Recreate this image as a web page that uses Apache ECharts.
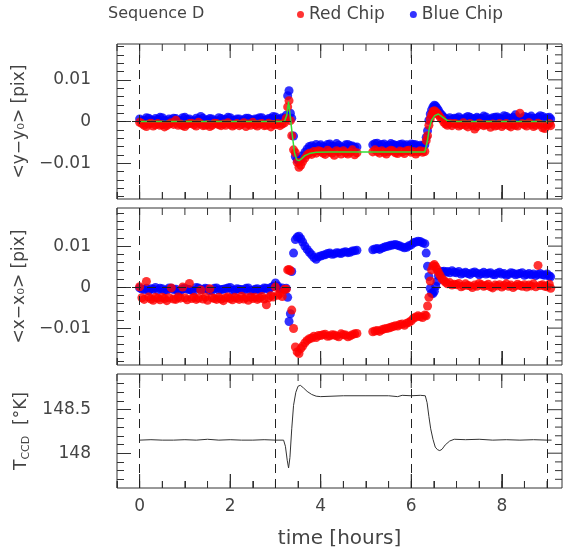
<!DOCTYPE html>
<html>
<head>
<meta charset="utf-8">
<script src="https://cdn.jsdelivr.net/npm/echarts@6/dist/echarts.min.js"></script>
<style>
  html, body { margin: 0; padding: 0; background: #fff; }
  #main { width: 563px; height: 550px; }
</style>
</head>
<body>
<div id="main"></div>
<script>
// exposure times [hours]
var hours = [
  0.00, 0.05, 0.10, 0.15, 0.20, 0.25, 0.30, 0.35, 0.40, 0.45, 0.50, 0.55, 0.60, 0.65, 0.70, 0.75, 0.80, 0.85, 0.90, 0.95,
  1.00, 1.05, 1.10, 1.15, 1.20, 1.25, 1.30, 1.35, 1.40, 1.45, 1.50, 1.55, 1.60, 1.65, 1.70, 1.75, 1.80, 1.85, 1.90, 1.95,
  2.00, 2.05, 2.10, 2.15, 2.20, 2.25, 2.30, 2.35, 2.40, 2.45, 2.50, 2.55, 2.60, 2.65, 2.70, 2.75, 2.80, 2.85, 2.90, 2.95,
  3.00, 3.05, 3.10, 3.15, 3.20,
  3.24, 3.27, 3.30, 3.33, 3.36, 3.40, 3.44, 3.48, 3.52, 3.56, 3.60, 3.65, 3.70, 3.75, 3.80, 3.85, 3.90, 3.95,
  4.00, 4.05, 4.10, 4.15, 4.20, 4.25, 4.30, 4.35, 4.40, 4.45, 4.50, 4.55, 4.60, 4.65, 4.70, 4.75, 4.80,
  5.15, 5.20, 5.25, 5.30, 5.35, 5.40, 5.45, 5.50, 5.55, 5.60, 5.65, 5.70, 5.75, 5.80, 5.85, 5.90, 5.95, 6.00, 6.05, 6.10,
  6.15, 6.20, 6.25, 6.30,
  6.33, 6.36, 6.39, 6.42, 6.45, 6.48, 6.51, 6.54, 6.57, 6.60, 6.64, 6.68, 6.72, 6.76, 6.80, 6.85, 6.90, 6.95,
  7.00, 7.05, 7.10, 7.15, 7.20, 7.25, 7.30, 7.35, 7.40, 7.45, 7.50, 7.55, 7.60, 7.65, 7.70, 7.75, 7.80, 7.85, 7.90, 7.95,
  8.00, 8.05, 8.10, 8.15, 8.20, 8.25, 8.30, 8.35, 8.40, 8.45, 8.50, 8.55, 8.60, 8.65, 8.70, 8.75, 8.80, 8.85, 8.90, 8.95,
  9.00, 9.05, 9.08
];

// <y-y0>, in units of 0.001 pix
var dyBlue = [
  0.6, 0.2, 0.3, 0.9, 0.8, 0.4, 0.2, 0.7, 0.5, 1.0, 0.9, 0.3, 0.1, 0.6, 0.4, 0.8, 0.7, 0.2, 0.3, 0.9,
  1.0, 0.5, 0.6, 0.1, 0.2, 0.8, 0.5, 1.2, 0.8, 0.3, 0.4, 0.7, 0.6, 0.2, 0.2, 0.9, 0.7, 0.4, 0.5, 1.0,
  0.9, 0.3, 0.3, 0.6, 0.6, 0.1, 0.4, 0.8, 0.8, 0.5, 0.2, 0.6, 0.6, 0.9, 0.9, 0.3, 0.4, 0.7, 0.7, 1.2,
  1.1, 0.5, 0.6, 0.9, 0.8,
  1.5, 6.2, 7.4, 2.0, 0.8, -3.5, -8.4, -9.2, -9.5, -9.0, -8.2, -7.4, -6.6, -6.0, -5.8, -6.2, -5.5, -6.0,
  -5.6, -6.0, -6.2, -5.5, -5.4, -5.9, -6.0, -5.3, -5.7, -6.1, -6.3, -5.6, -5.5, -5.8, -5.9, -6.2, -6.1,
  -5.6, -5.3, -5.2, -5.8, -5.5, -5.4, -6.0, -5.7, -5.3, -5.5, -5.7, -5.9, -5.5, -5.4, -5.8, -5.6, -5.9, -5.4, -5.5, -5.6,
  -6.0, -5.7, -5.8, -5.6,
  -3.8, -2.2, 0.3, 1.8, 2.8, 3.5, 3.9, 3.7, 3.2, 2.7, 2.0, 1.5, 1.0, 0.6, 0.4, 0.9, 0.5, 0.8,
  0.8, 1.1, 0.6, 0.5, 0.9, 1.2, 1.0, 0.6, 0.7, 1.0, 0.8, 0.7, 1.3, 1.1, 0.5, 0.6, 0.9, 1.0, 1.1, 0.8,
  0.6, 1.4, 1.2, 0.8, 0.7, 1.0, 1.6, 0.9, 0.5, 0.7, 1.2, 1.0, 0.9, 1.3, 0.8, 0.7, 1.0, 1.4, 1.2, 0.6,
  0.9, 1.0, 0.6
];
var dyRed = [
  -0.2, -0.5, -0.9, -1.2, -0.6, -0.4, -1.1, -0.8, -0.5, -0.9, -0.8, -1.3, -1.0, -0.6, -0.3, -0.7, 0.3, -0.9, -0.6, -1.0,
  -1.2, -0.7, -0.5, -0.4, -0.8, -1.1, -0.2, -0.6, -1.0, -0.9, -0.7, -1.2, -0.9, -0.4, -0.5, -0.8, -1.0, -0.6, -0.9, -0.3,
  -0.7, -1.1, -0.8, -0.5, -1.0, -0.7, -0.3, -1.2, -0.6, -0.9, -0.2, -0.8, -1.1, -0.6, -0.5, -1.0, -0.9, -0.4, -1.3, -0.7,
  -0.8, -0.5, -1.0, -0.6, -0.3,
  0.8, 3.5, 5.0, 0.2, -3.4, -6.8, -7.5, -9.8, -11.0, -10.5, -9.6, -8.8, -8.0, -7.6, -7.9, -7.2, -7.6, -7.0,
  -7.2, -7.6, -7.9, -6.9, -7.3, -7.6, -8.1, -7.0, -7.3, -7.8, -7.0, -7.5, -7.8, -7.4, -6.8, -8.0, -7.5,
  -7.3, -6.8, -7.2, -7.6, -7.0, -7.4, -7.8, -7.2, -6.9, -7.1, -7.5, -7.7, -7.1, -7.3, -7.7, -7.0, -6.9, -7.4, -7.2, -7.8,
  -7.3, -7.0, -7.4, -7.2,
  -4.6, -3.4, -0.9, 0.6, 1.6, 2.4, 2.6, 2.3, 2.0, 1.6, 1.0, 0.5, -0.2, -0.6, -0.9, -0.4, -1.0, -0.5,
  -0.6, -1.1, -0.8, -0.3, -0.9, -1.3, -0.5, -1.0, -1.8, -1.2, -0.4, -0.7, -1.0, -0.8, -0.7, -1.4, -0.6, -1.1, -0.9, -0.5,
  -1.2, -0.8, -0.5, -1.0, -1.3, -0.6, -0.9, -1.1, 2.0, -0.5, -0.8, -1.1, -0.3, -0.7, -1.2, -0.9, -0.4, -0.7, -1.5, -1.7,
  -0.9, -0.5, -1.0
];

// <x-x0>, in units of 0.001 pix
var dxBlue = [
  -0.2, -0.5, -0.6, -0.3, -0.9, -0.4, -0.5, -0.1, -0.7, -0.3, -0.4, -0.8, -0.7, -0.2, -0.3, -0.6, -0.5, -1.0, -0.9, -0.4,
  -0.3, -0.5, -0.6, -0.8, -0.9, -0.1, -0.2, -0.6, -0.5, -0.3, -0.4, -0.9, -0.8, -0.3, -0.2, -0.7, -0.6, -0.5, -0.4, -0.2,
  -0.1, -0.8, -0.7, -0.4, -0.5, -0.6, -0.7, -0.3, -0.2, -0.9, -0.8, -0.5, -0.4, -0.7, -0.6, -0.2, -0.3, -0.6, -0.1, 0.2,
  1.0, 0.3, -0.4, -0.2, -0.6,
  -0.3, -2.5, -8.4, -6.5, 3.8, 8.3, 11.6, 12.2, 12.4, 11.8, 11.0, 10.0, 9.2, 8.5, 7.9, 7.2, 6.8, 7.4,
  7.6, 7.8, 7.9, 8.2, 8.3, 8.0, 8.1, 8.4, 8.3, 8.2, 8.5, 8.6, 8.4, 8.5, 8.8, 8.9, 9.0,
  9.1, 9.3, 9.4, 9.2, 9.5, 9.7, 9.9, 10.0, 10.2, 10.3, 10.4, 10.2, 10.0, 9.8, 9.6, 9.7, 10.1, 10.3, 10.8, 11.0,
  11.2, 11.1, 10.8, 10.6,
  8.3, 5.1, 2.6, -0.3, -1.5, -1.6, -1.0, 0.2, 1.4, 2.8, 3.6, 3.8, 3.9, 3.6, 3.8, 3.5, 4.0, 3.6,
  3.5, 3.8, 3.2, 3.4, 3.6, 3.3, 3.1, 3.5, 3.7, 3.4, 3.0, 3.3, 3.6, 3.2, 3.4, 3.5, 3.1, 3.0, 3.4, 3.6,
  3.2, 3.3, 2.9, 3.1, 3.5, 3.4, 3.0, 3.2, 3.3, 3.5, 2.9, 3.1, 3.3, 3.0, 3.2, 2.8, 3.1, 3.3, 3.0, 2.9,
  3.2, 2.7, 2.5
];
var dxRed = [
  0.1, -2.6, -3.0, 1.4, -2.4, -2.9, -3.2, -2.5, -2.7, -3.1, -2.5, -2.8, -3.3, -2.6, -0.2, -2.9, -3.0, -2.4, -2.7, 0.0,
  -2.6, -3.1, 0.9, -2.8, -2.5, -3.0, -2.7, -0.7, -2.9, -2.4, -3.2, -0.4, -2.6, -2.8, -3.0, -2.5, -2.9, -3.3, -2.6, -2.4,
  -2.8, -3.1, -2.5, -2.7, -3.0, -2.2, -2.9, -2.6, -3.2, -2.4, -2.8, -2.5, -3.0, -2.7, -2.3, -2.9, -4.3, -2.6, -2.1, -2.4,
  0.0, -2.0, -1.6, -2.3, -0.5,
  -0.5, 4.2, 4.3, 4.0, -5.6, -10.1, -14.6, -15.8, -16.2, -15.0, -14.4, -13.6, -13.0, -12.6, -12.4, -12.0, -12.3, -11.8,
  -11.8, -11.6, -11.5, -12.0, -11.9, -11.6, -11.7, -11.9, -12.1, -11.4, -11.6, -11.7, -12.1, -11.9, -11.6, -11.4, -11.3,
  -10.9, -10.7, -10.6, -10.8, -10.4, -10.2, -10.1, -10.0, -9.8, -9.6, -9.4, -9.5, -9.1, -9.0, -9.3, -8.8, -8.6, -8.2, -7.6, -7.3,
  -7.0, -7.2, -7.4, -6.8,
  -7.0, -4.6, -2.5, 1.5, 4.2, 5.2, 5.5, 5.0, 4.3, 3.6, 2.8, 2.0, 1.6, 1.2, 0.8, 1.1, 0.5, 0.7,
  0.6, 0.9, 0.1, 0.3, 0.8, 0.4, 0.3, -0.1, 0.5, 0.2, 0.9, 0.6, 0.2, 0.4, 0.7, 0.1, -0.2, 0.5, 0.3, 0.6,
  0.0, 0.4, 0.8, 0.2, 0.5, -0.1, 0.3, 0.7, 0.4, 0.2, 0.6, 0.0, 0.5, 0.3, 0.8, 0.1, 5.3, 0.4, 0.6, 0.2,
  0.1, 0.7, -0.3
];

// model curve drawn over <y-y0>, units of 0.001 pix
var fitHours = [0.0, 3.2, 3.25, 3.29, 3.33, 3.37, 3.42, 3.47, 3.52, 3.58, 3.65, 3.75, 3.9, 4.2,
  6.3, 6.36, 6.40, 6.45, 6.52, 6.60, 6.70, 6.80, 6.90, 9.1];
var fitDy = [0.0, 0.0, 1.5, 4.8, 1.0, -3.0, -7.5, -9.2, -9.4, -8.9, -8.2, -7.7, -7.4, -7.3,
  -7.3, -4.5, -1.5, 0.3, 1.4, 1.8, 1.0, 0.2, 0.0, 0.0];

// CCD temperature [K]
var tempHours = [0.0, 0.25, 0.5, 0.75, 1.0, 1.25, 1.5, 1.75, 2.0, 2.25, 2.5, 2.75, 3.0, 3.18,
  3.22, 3.26, 3.29, 3.32, 3.36, 3.40, 3.45, 3.50, 3.55, 3.62, 3.70, 3.80, 3.90, 4.0, 4.5, 5.0,
  5.5, 5.7, 5.8, 6.0, 6.2, 6.31, 6.35, 6.39, 6.43, 6.48, 6.53, 6.58, 6.63, 6.68, 6.75, 6.85,
  6.95, 7.2, 7.5, 7.8, 8.1, 8.4, 8.7, 9.0, 9.1];
var tempK = [148.15, 148.155, 148.15, 148.15, 148.155, 148.15, 148.16, 148.15, 148.155, 148.15, 148.15, 148.155, 148.15, 148.15,
  148.08, 147.92, 147.83, 147.95, 148.28, 148.55, 148.70, 148.77, 148.78, 148.75, 148.71, 148.675, 148.655, 148.65, 148.66, 148.66,
  148.66, 148.65, 148.665, 148.66, 148.665, 148.66, 148.58, 148.42, 148.28, 148.16, 148.07, 148.04, 148.03, 148.045, 148.095, 148.14,
  148.16, 148.155, 148.16, 148.15, 148.155, 148.15, 148.155, 148.15, 148.15];

var xMajor = [0, 2, 4, 6, 8];
var offsetMajor = [-0.01, 0, 0.01];
var tempMajor = [148, 148.5];
var tempMinor = [147.7, 147.8, 147.9, 148.1, 148.2, 148.3, 148.4, 148.6, 148.7, 148.8];
var sessionBreaks = [0, 3, 6, 9];

var xMinor = [];
for (var v = -0.5; v <= 9.01; v += 0.5) xMinor.push(+v.toFixed(1));
var offsetMinor = [];
for (var k = -9; k <= 9; k++) if (k % 5 !== 0) offsetMinor.push(+(k * 0.002).toFixed(3));

var ink = '#333';
var textInk = '#444';
var font = 'DejaVu Sans';
var X_MIN = -0.5, X_MAX = 9.33;
var PLOT_LEFT = 117, PLOT_RIGHT = 1;

function pairs(xs, ys, scale) {
  return xs.map(function (x, i) { return [x, ys[i] * scale]; });
}

function signed(v) {
  return v < 0 ? '\u2212' + String(-v) : String(v);
}

function tick(len, values) {
  return { show: true, inside: true, length: len, customValues: values.slice(), lineStyle: { color: ink } };
}

var grids = [], xAxes = [], yAxes = [];

// each panel: one grid, x axis at bottom (labels) and y axis at left (labels),
// the other frame ticks come from the custom "frame ticks" series below
function addPanel(rect, yMin, yMax, yMajor, yMinor, yName, fmt, withTime) {
  var first = grids.length;
  for (var layer = 0; layer < 2; layer++) {
    var g = first + layer;
    var major = layer === 0;
    grids.push(Object.assign({}, rect, {
      show: layer === 0, borderColor: ink, borderWidth: 1, backgroundColor: 'transparent', outerBoundsMode: 'none'
    }));
    var xa = {
      gridIndex: g, type: 'value', position: 'bottom', min: X_MIN, max: X_MAX,
      axisLine: { show: false, onZero: false }, splitLine: { show: false }, axisLabel: { show: false },
      axisTick: major ? tick(14, xMajor) : tick(7, xMinor)
    };
    var ya = {
      gridIndex: g, type: 'value', position: 'left', min: yMin, max: yMax,
      axisLine: { show: false, onZero: false }, splitLine: { show: false }, axisLabel: { show: false },
      axisTick: major ? tick(14, yMajor) : tick(7, yMinor)
    };
    if (layer === 0) {
      ya.axisLabel = { show: true, customValues: yMajor.slice(), margin: 26, formatter: fmt, fontFamily: font, fontSize: 17, color: textInk };
      ya.name = yName;
      ya.nameLocation = 'middle';
      ya.nameRotate = 90;
      ya.nameGap = 84;
      ya.nameTextStyle = {
        fontFamily: font, fontSize: 17, color: textInk,
        rich: { s: { fontFamily: font, fontSize: 11, color: textInk, padding: [9, 0, 0, 0] } }
      };
      if (withTime) {
        xa.axisLabel = { show: true, customValues: xMajor.slice(), margin: 10, fontFamily: font, fontSize: 17, color: textInk };
        xa.name = 'time [hours]';
        xa.nameLocation = 'middle';
        xa.nameGap = 41;
        xa.nameTextStyle = { fontFamily: font, fontSize: 20, color: textInk };
      }
    }
    xAxes.push(xa);
    yAxes.push(ya);
  }
  return first;
}

var panels = [
  { top: 44, height: 155, min: -0.0186, max: 0.0186 },
  { top: 208, height: 157, min: -0.019, max: 0.0193 },
  { top: 374, height: 114, min: 147.6, max: 148.91 }
];

var p1 = addPanel({ left: PLOT_LEFT, right: PLOT_RIGHT, top: panels[0].top, height: panels[0].height },
  panels[0].min, panels[0].max, offsetMajor, offsetMinor, '<y\u2212y\u2080> [pix]', signed, false);
var p2 = addPanel({ left: PLOT_LEFT, right: PLOT_RIGHT, top: panels[1].top, height: panels[1].height },
  panels[1].min, panels[1].max, offsetMajor, offsetMinor, '<x\u2212x\u2080> [pix]', signed, false);
var p3 = addPanel({ left: PLOT_LEFT, right: PLOT_RIGHT, top: panels[2].top, height: panels[2].height },
  panels[2].min, panels[2].max, tempMajor, tempMinor, 'T{s|CCD}  [\u00b0K]', null, true);

// tick rows: [x, y, pixel dx, pixel dy]; drawn as short strokes from the frame inwards
function frameTickRows(yMin, yMax, yMajor, yMinor) {
  var rows = [];
  xMinor.forEach(function (x) { rows.push([x, yMin, 0, -7]); rows.push([x, yMax, 0, 7]); });
  xMajor.forEach(function (x) { rows.push([x, yMin, 0, -14]); rows.push([x, yMax, 0, 14]); });
  yMinor.forEach(function (y) { rows.push([X_MAX, y, -7, 0]); });
  yMajor.forEach(function (y) { rows.push([X_MAX, y, -14, 0]); });
  return rows;
}

function tickSeries(p, pn, yMajor, yMinor) {
  return {
    name: 'frame ticks', type: 'custom', xAxisIndex: p, yAxisIndex: p, silent: true, clip: false, z: 4,
    encode: { x: 0, y: 1 },
    data: frameTickRows(pn.min, pn.max, yMajor, yMinor),
    renderItem: function (params, api) {
      var pt = api.coord([api.value(0), api.value(1)]);
      return {
        type: 'line',
        shape: { x1: pt[0], y1: pt[1], x2: pt[0] + api.value(2), y2: pt[1] + api.value(3) },
        style: { stroke: ink, lineWidth: 1, fill: null }
      };
    }
  };
}

function guides(withZero) {
  var data = sessionBreaks.map(function (b) { return { xAxis: b }; });
  if (withZero) data.push({ yAxis: 0 });
  return {
    silent: true, symbol: 'none', label: { show: false }, animation: false,
    lineStyle: { color: '#222', type: [9, 6], width: 1 }, data: data
  };
}

var myChart = echarts.init(document.getElementById('main'));
myChart.setOption({
  animation: false,
  title: {
    text: 'Sequence D', left: 108, top: 6, padding: 0,
    textStyle: { fontFamily: font, fontSize: 16, fontWeight: 'normal', color: textInk }
  },
  legend: {
    data: ['Red Chip', 'Blue Chip'], left: 297, top: 6, padding: 0,
    icon: 'circle', itemWidth: 7, itemHeight: 7, itemGap: 25,
    textStyle: { fontFamily: font, fontSize: 17, color: textInk }
  },
  grid: grids,
  xAxis: xAxes,
  yAxis: yAxes,
  series: [
    { name: 'Blue Chip', type: 'scatter', xAxisIndex: p1, yAxisIndex: p1, symbolSize: 9,
      itemStyle: { color: '#0000ff' }, data: pairs(hours, dyBlue, 0.001) },
    { name: 'Red Chip', type: 'scatter', xAxisIndex: p1, yAxisIndex: p1, symbolSize: 9,
      itemStyle: { color: '#ff0000' }, data: pairs(hours, dyRed, 0.001), markLine: guides(true) },
    { name: 'model', type: 'line', xAxisIndex: p1, yAxisIndex: p1, showSymbol: false,
      lineStyle: { color: '#33e033', width: 1.5 }, data: pairs(fitHours, fitDy, 0.001) },
    { name: 'Blue Chip', type: 'scatter', xAxisIndex: p2, yAxisIndex: p2, symbolSize: 9,
      itemStyle: { color: '#0000ff' }, data: pairs(hours, dxBlue, 0.001) },
    { name: 'Red Chip', type: 'scatter', xAxisIndex: p2, yAxisIndex: p2, symbolSize: 9,
      itemStyle: { color: '#ff0000' }, data: pairs(hours, dxRed, 0.001), markLine: guides(true) },
    { name: 'T', type: 'line', xAxisIndex: p3, yAxisIndex: p3, showSymbol: false,
      lineStyle: { color: '#333', width: 1 }, data: pairs(tempHours, tempK, 1), markLine: guides(false) },
    tickSeries(p1, panels[0], offsetMajor, offsetMinor),
    tickSeries(p2, panels[1], offsetMajor, offsetMinor),
    tickSeries(p3, panels[2], tempMajor, tempMinor)
  ]
});
</script>
</body>
</html>
